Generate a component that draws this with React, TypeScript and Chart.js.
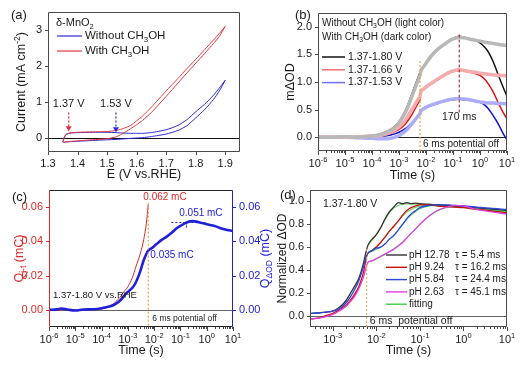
import React, { useEffect, useRef } from 'react';
import { Chart, registerables } from 'chart.js';

Chart.register(...registerables);

const FONT = '"Liberation Sans", Arial, Helvetica, sans-serif';
const FRAME = '#4a4a4a';
const TXT = '#1a1a1a';

/* ---------- (a) cyclic voltammetry ---------- */
const E_GRID = [1.35, 1.355, 1.36, 1.37, 1.38, 1.4, 1.45, 1.5, 1.53, 1.55, 1.58, 1.6, 1.62, 1.65, 1.7, 1.74, 1.77, 1.8, 1.83, 1.86, 1.88, 1.9];
const I_BLUE_FWD = [-0.12, 0.0, 0.08, 0.12, 0.13, 0.14, 0.15, 0.15, 0.14, 0.13, 0.12, 0.12, 0.12, 0.14, 0.22, 0.34, 0.5, 0.72, 0.93, 1.18, 1.38, 1.6];
const I_BLUE_REV = [-0.13, -0.13, -0.12, -0.115, -0.11, -0.1, -0.08, -0.06, -0.05, -0.04, -0.02, -0.01, 0.0, 0.03, 0.1, 0.2, 0.33, 0.55, 0.78, 1.06, 1.3, 1.6];
const I_RED_FWD = [-0.12, 0.0, 0.08, 0.12, 0.14, 0.15, 0.16, 0.17, 0.2, 0.24, 0.34, 0.47, 0.6, 0.85, 1.3, 1.65, 1.92, 2.18, 2.45, 2.72, 2.9, 3.1];
const I_RED_REV = [-0.13, -0.13, -0.12, -0.11, -0.1, -0.09, -0.06, -0.03, 0.02, 0.1, 0.25, 0.36, 0.48, 0.7, 1.15, 1.52, 1.8, 2.07, 2.34, 2.62, 2.82, 3.1];
const A_X_TICKS = [1.3, 1.4, 1.5, 1.6, 1.7, 1.8, 1.9];
const A_Y_TICKS = [0, 1, 2, 3];

/* ---------- (b) transient absorption ---------- */
const T_B = [1e-6, 3e-6, 1e-5, 3e-5, 1e-4, 2e-4, 3e-4, 5e-4, 7e-4, 1e-3, 1.5e-3, 2e-3, 3e-3, 4e-3, 5e-3, 6e-3, 6.5e-3, 8e-3, 1e-2, 1.5e-2, 2e-2, 3e-2, 5e-2, 7e-2, 0.1, 0.17, 0.25, 0.4, 0.6, 1, 1.5, 2, 3, 5, 7, 10];
const B_BLACK = [0.0, 0.01, -0.01, 0.01, 0.03, 0.06, 0.09, 0.14, 0.2, 0.28, 0.42, 0.55, 0.78, 0.95, 1.07, 1.17, 1.22, 1.28, 1.35, 1.47, 1.54, 1.62, 1.7, 1.75, 1.79, 1.83, 1.81, 1.79, 1.76, 1.71, 1.63, 1.55, 1.38, 1.1, 0.92, 0.74];
const B_GRAY = [0.0, 0.0, 0.01, 0.0, 0.02, 0.05, 0.08, 0.12, 0.18, 0.26, 0.4, 0.52, 0.74, 0.9, 1.02, 1.12, 1.2, 1.27, 1.34, 1.46, 1.53, 1.61, 1.69, 1.74, 1.78, 1.81, 1.8, 1.78, 1.76, 1.74, 1.72, 1.71, 1.7, 1.68, 1.67, 1.66];
const B_RED = [0.0, 0.0, 0.01, 0.0, 0.01, 0.02, 0.04, 0.07, 0.1, 0.14, 0.21, 0.28, 0.41, 0.52, 0.61, 0.68, 0.82, 0.86, 0.9, 0.96, 1.0, 1.05, 1.12, 1.16, 1.19, 1.21, 1.2, 1.18, 1.16, 1.12, 1.05, 0.97, 0.83, 0.6, 0.46, 0.33];
const B_PINK = [0.01, 0.0, 0.0, 0.01, 0.02, 0.03, 0.05, 0.09, 0.13, 0.18, 0.27, 0.36, 0.5, 0.6, 0.68, 0.74, 0.83, 0.87, 0.91, 0.97, 1.01, 1.07, 1.13, 1.17, 1.2, 1.22, 1.21, 1.19, 1.18, 1.16, 1.15, 1.14, 1.13, 1.12, 1.12, 1.11];
const B_BLUE = [0.0, 0.0, -0.01, 0.0, 0.0, 0.01, 0.02, 0.04, 0.06, 0.09, 0.14, 0.18, 0.26, 0.33, 0.38, 0.43, 0.47, 0.5, 0.53, 0.57, 0.59, 0.62, 0.65, 0.67, 0.68, 0.69, 0.68, 0.67, 0.66, 0.63, 0.58, 0.52, 0.4, 0.22, 0.08, -0.05];
const B_LBLUE = [0.0, 0.0, 0.0, -0.01, -0.02, -0.03, -0.03, -0.02, 0.0, 0.03, 0.09, 0.14, 0.24, 0.32, 0.38, 0.43, 0.48, 0.51, 0.54, 0.58, 0.6, 0.63, 0.66, 0.68, 0.69, 0.7, 0.69, 0.68, 0.66, 0.64, 0.63, 0.62, 0.62, 0.61, 0.61, 0.6];
const B_Y_TICKS = [0, 0.5, 1.0, 1.5, 2.0];
const EXP_BC = [-6, -5, -4, -3, -2, -1, 0, 1];

/* ---------- (c) charge ---------- */
const T_C = [1e-6, 2e-6, 3e-6, 5e-6, 1e-5, 2e-5, 5e-5, 1e-4, 2e-4, 3e-4, 5e-4, 7e-4, 1e-3, 1.5e-3, 2e-3, 3e-3, 4e-3, 5e-3, 6e-3, 8e-3, 1e-2, 1.5e-2, 2e-2, 3e-2, 5e-2, 7e-2, 0.1, 0.17, 0.3, 0.5, 1, 2, 3, 5, 10];
const C_QOD = [0, 0.0003, 0.0008, 0.0002, -0.0004, 0.0002, 0.0004, 0.001, 0.002, 0.003, 0.0053, 0.008, 0.0105, 0.013, 0.016, 0.0228, 0.029, 0.0325, 0.0346, 0.036, 0.0372, 0.0395, 0.041, 0.0428, 0.0455, 0.0475, 0.049, 0.051, 0.0518, 0.0512, 0.05, 0.049, 0.048, 0.047, 0.046];
const T_CJ = [1e-6, 1e-5, 5e-5, 1e-4, 2e-4, 3e-4, 5e-4, 7e-4, 1e-3, 1.5e-3, 2e-3, 3e-3, 4e-3, 5e-3, 6e-3];
const C_QJ = [0, 0, 0.0001, 0.0005, 0.002, 0.0038, 0.0073, 0.0105, 0.0135, 0.019, 0.025, 0.033, 0.041, 0.05, 0.062];
const C_Y_TICKS = [0, 0.02, 0.04, 0.06];

/* ---------- (d) normalized ---------- */
const T_D = [3.2e-4, 5e-4, 7e-4, 1e-3, 1.4e-3, 2e-3, 2.5e-3, 3.2e-3, 4e-3, 5e-3, 6e-3, 6.5e-3, 8e-3, 1e-2, 1.26e-2, 1.6e-2, 2e-2, 2.5e-2, 3.2e-2, 4e-2, 5e-2, 6.3e-2, 8e-2, 0.1, 0.16, 0.25, 0.4, 0.63, 1, 2, 4, 10];
const D_PH12 = [0.02, 0.025, 0.03, 0.04, 0.07, 0.13, 0.19, 0.26, 0.33, 0.45, 0.58, 0.62, 0.67, 0.71, 0.77, 0.85, 0.91, 0.95, 0.99, 0.98, 0.99, 0.98, 0.985, 0.98, 0.975, 0.97, 0.965, 0.96, 0.955, 0.945, 0.935, 0.92];
const D_PH9 = [-0.03, -0.02, 0.0, 0.02, 0.05, 0.09, 0.13, 0.19, 0.26, 0.37, 0.52, 0.55, 0.57, 0.6, 0.64, 0.69, 0.74, 0.78, 0.83, 0.88, 0.92, 0.945, 0.96, 0.97, 0.97, 0.96, 0.955, 0.95, 0.945, 0.93, 0.92, 0.9];
const D_PH5 = [0.02, 0.025, 0.03, 0.04, 0.06, 0.11, 0.16, 0.23, 0.31, 0.42, 0.53, 0.55, 0.57, 0.59, 0.6, 0.63, 0.67, 0.7, 0.75, 0.8, 0.85, 0.89, 0.92, 0.945, 0.965, 0.97, 0.97, 0.965, 0.96, 0.95, 0.94, 0.93];
const D_PH2 = [-0.03, -0.02, -0.01, 0.01, 0.04, 0.08, 0.12, 0.17, 0.24, 0.33, 0.44, 0.47, 0.48, 0.5, 0.52, 0.54, 0.56, 0.58, 0.61, 0.64, 0.68, 0.72, 0.76, 0.8, 0.87, 0.92, 0.95, 0.965, 0.96, 0.93, 0.91, 0.89];
const T_DFIT = [6.5e-3, 8e-3, 1e-2, 1.26e-2, 1.6e-2, 2e-2, 2.5e-2, 3.2e-2, 4e-2, 5e-2, 6.3e-2, 8e-2, 0.1, 0.16, 0.25, 0.4, 0.63, 1, 2, 4, 10];
const FIT12 = [0.62, 0.66, 0.71, 0.77, 0.84, 0.9, 0.94, 0.965, 0.975, 0.978, 0.978, 0.976, 0.974, 0.97, 0.965, 0.96, 0.955, 0.95, 0.94, 0.93, 0.91];
const FIT9 = [0.55, 0.575, 0.605, 0.645, 0.69, 0.74, 0.785, 0.83, 0.87, 0.905, 0.93, 0.948, 0.958, 0.965, 0.962, 0.957, 0.952, 0.946, 0.935, 0.923, 0.905];
const FIT5 = [0.55, 0.562, 0.58, 0.6, 0.63, 0.665, 0.705, 0.75, 0.795, 0.84, 0.88, 0.91, 0.935, 0.958, 0.966, 0.966, 0.962, 0.957, 0.947, 0.937, 0.92];
const FIT2 = [0.47, 0.48, 0.495, 0.515, 0.535, 0.56, 0.585, 0.615, 0.645, 0.68, 0.72, 0.76, 0.8, 0.868, 0.915, 0.945, 0.955, 0.952, 0.935, 0.915, 0.89];
const D_Y_TICKS = [0, 0.2, 0.4, 0.6, 0.8, 1.0];
const EXP_D = [-3, -2, -1, 0, 1];
const D_LEGEND = ['pH 12.78', 'pH 9.24', 'pH 5.84', 'pH 2.63', 'fitting'];
const D_TAU = ['τ = 5.4 ms', 'τ = 16.2 ms', 'τ = 24.4 ms', 'τ = 45.1 ms'];

/* ---------- layout boxes (canvas rect + plot rect, page px) ---------- */
type Box = { cx: number; cy: number; cw: number; ch: number; L: number; T: number; R: number; B: number };
const BOX_A: Box = { cx: 0, cy: 0, cw: 260, ch: 184, L: 48, T: 12, R: 240, B: 152 };
const BOX_B: Box = { cx: 260, cy: 0, cw: 260, ch: 184, L: 318, T: 13, R: 507, B: 151 };
const BOX_C: Box = { cx: 0, cy: 174, cw: 276, ch: 200, L: 49, T: 190, R: 233, B: 327 };
const BOX_D: Box = { cx: 276, cy: 174, cw: 244, ch: 200, L: 310, T: 190, R: 507, B: 327 };

/* ---------- helpers ---------- */
const pts = (xs: number[], ys: number[]) => xs.map((x, i) => ({ x, y: ys[i] }));

function rich(s: string) {
  const out: { t: string; k: number }[] = [];
  const re = /([_^])\{([^}]*)\}/g;
  let last = 0;
  let m: RegExpExecArray | null;
  while ((m = re.exec(s))) {
    if (m.index > last) out.push({ t: s.slice(last, m.index), k: 0 });
    out.push({ t: m[2], k: m[1] === '_' ? 1 : 2 });
    last = re.lastIndex;
  }
  if (last < s.length) out.push({ t: s.slice(last), k: 0 });
  return out;
}

function drawText(ctx: any, s: string, x: number, y: number, size: number, color: string, align = 'left', rot = 0) {
  const parts = rich(s);
  let w = 0;
  for (const p of parts) {
    ctx.font = `${p.k ? size * 0.68 : size}px ${FONT}`;
    w += ctx.measureText(p.t).width;
  }
  ctx.save();
  ctx.translate(x, y);
  if (rot) ctx.rotate(rot);
  let px = align === 'left' ? 0 : align === 'center' ? -w / 2 : -w;
  ctx.fillStyle = color;
  ctx.textBaseline = 'middle';
  ctx.textAlign = 'left';
  for (const p of parts) {
    const sz = p.k ? size * 0.68 : size;
    ctx.font = `${sz}px ${FONT}`;
    const dy = p.k === 1 ? size * 0.32 : p.k === 2 ? -size * 0.38 : 0;
    ctx.fillText(p.t, px, dy);
    px += ctx.measureText(p.t).width;
  }
  ctx.restore();
}

function seg(ctx: any, x1: number, y1: number, x2: number, y2: number, color: string, w = 1, dash: number[] = []) {
  ctx.save();
  ctx.strokeStyle = color;
  ctx.lineWidth = w;
  ctx.setLineDash(dash);
  ctx.beginPath();
  ctx.moveTo(x1, y1);
  ctx.lineTo(x2, y2);
  ctx.stroke();
  ctx.restore();
}

function arrowDown(ctx: any, x: number, y1: number, y2: number, color: string) {
  seg(ctx, x, y1, x, y2 - 4, color, 1.2, [2, 2]);
  ctx.save();
  ctx.fillStyle = color;
  ctx.beginPath();
  ctx.moveTo(x - 3, y2 - 5);
  ctx.lineTo(x + 3, y2 - 5);
  ctx.lineTo(x, y2);
  ctx.closePath();
  ctx.fill();
  ctx.restore();
}

function frame(ctx: any, ca: any, cl = FRAME, cr = FRAME, ct = FRAME, cb = FRAME) {
  const l = Math.round(ca.left) + 0.5, r = Math.round(ca.right) - 0.5;
  const t = Math.round(ca.top) + 0.5, b = Math.round(ca.bottom) - 0.5;
  seg(ctx, l, t, r, t, ct);
  seg(ctx, l, b, r, b, cb);
  seg(ctx, l, t, l, b, cl);
  seg(ctx, r, t, r, b, cr);
}

function xTicks(ctx: any, sc: any, ca: any, vals: number[], len: number, color = FRAME) {
  for (const v of vals) {
    const px = Math.round(sc.getPixelForValue(v)) + 0.5;
    seg(ctx, px, ca.bottom, px, ca.bottom + len, color);
  }
}

function yTicks(ctx: any, sc: any, ca: any, vals: number[], len: number, color = FRAME, side = 'left') {
  for (const v of vals) {
    const py = Math.round(sc.getPixelForValue(v)) + 0.5;
    if (side === 'left') seg(ctx, ca.left - len, py, ca.left, py, color);
    else seg(ctx, ca.right, py, ca.right + len, py, color);
  }
}

function logMinor(min: number, max: number) {
  const out: number[] = [];
  for (let e = Math.floor(Math.log10(min)); e <= Math.ceil(Math.log10(max)); e++) {
    for (let k = 1; k < 10; k++) {
      const v = k * Math.pow(10, e);
      if (v >= min * 0.9999 && v <= max * 1.0001) out.push(v);
    }
  }
  return out;
}

function logAxis(ctx: any, sc: any, ca: any, exps: number[], min: number, max: number) {
  xTicks(ctx, sc, ca, logMinor(min, max), 2);
  xTicks(ctx, sc, ca, exps.map((e) => Math.pow(10, e)), 4);
  for (const e of exps) {
    const px = sc.getPixelForValue(Math.pow(10, e));
    drawText(ctx, `10^{${e}}`, px, ca.bottom + 13, 11, TXT, 'center');
  }
}

function ds(data: any[], color: string, width: number, extra: any = {}) {
  return { data, borderColor: color, backgroundColor: color, borderWidth: width, pointRadius: 0, fill: false, tension: 0, ...extra };
}

function xLin(box: Box, min: number, max: number, ticks: number[], fmt: (v: number) => string) {
  return {
    type: 'linear', position: 'bottom', min, max,
    afterFit: (s: any) => { s.height = box.cy + box.ch - box.B; },
    afterBuildTicks: (s: any) => { s.ticks = ticks.map((v) => ({ value: v })); },
    ticks: { autoSkip: false, maxRotation: 0, padding: 2, color: TXT, font: { family: FONT, size: 11 }, callback: (v: any) => fmt(Number(v)) },
    grid: { display: false, drawTicks: true, tickLength: 3 },
    border: { display: false },
  };
}

function xLog(box: Box, min: number, max: number) {
  return {
    type: 'logarithmic', position: 'bottom', min, max,
    afterFit: (s: any) => { s.height = box.cy + box.ch - box.B; },
    ticks: { display: false },
    grid: { display: false },
    border: { display: false },
  };
}

function yLin(box: Box, min: number, max: number, ticks: number[], fmt: (v: number) => string, color: string, side = 'left') {
  return {
    type: 'linear', position: side, min, max,
    afterFit: (s: any) => { s.width = side === 'left' ? box.L - box.cx : box.cx + box.cw - box.R; },
    afterBuildTicks: (s: any) => { s.ticks = ticks.map((v) => ({ value: v })); },
    ticks: { autoSkip: false, padding: 3, color, font: { family: FONT, size: 11 }, callback: (v: any) => fmt(Number(v)) },
    grid: { display: false, drawTicks: true, tickLength: 3 },
    border: { display: false },
  };
}

function opts(box: Box, scales: any, rightAxis = false) {
  return {
    animation: false, responsive: false, maintainAspectRatio: false, devicePixelRatio: 1, events: [],
    layout: { padding: { top: box.T - box.cy, right: rightAxis ? 0 : box.cx + box.cw - box.R, left: 0, bottom: 0 } },
    plugins: { legend: { display: false }, tooltip: { enabled: false }, title: { display: false } },
    scales,
  };
}

function zeroLine(color: string, axis = 'y') {
  return (c: any) => {
    const { ctx, chartArea: ca } = c;
    const y0 = Math.round(c.scales[axis].getPixelForValue(0)) + 0.5;
    seg(ctx, ca.left, y0, ca.right, y0, color, 1);
  };
}

/* ---------- (a) ---------- */
const BLUE_A = '#2a2ad2';
const RED_A = '#e0393e';
function makeA(box: Box) {
  const blue = [...pts(E_GRID, I_BLUE_FWD), ...pts([...E_GRID].reverse(), [...I_BLUE_REV].reverse())];
  const red = [...pts(E_GRID, I_RED_FWD), ...pts([...E_GRID].reverse(), [...I_RED_REV].reverse())];
  const plugin = {
    id: 'pa',
    beforeDatasetsDraw: zeroLine('#111'),
    afterDraw(c: any) {
      const { ctx, chartArea: ca, scales } = c;
      const x = scales.x, y = scales.y;
      frame(ctx, ca);
      xTicks(ctx, x, ca, A_X_TICKS, 3);
      yTicks(ctx, y, ca, A_Y_TICKS, 3);
      drawText(ctx, '(a)', 11, 15, 13, TXT);
      drawText(ctx, 'Current (mA cm^{-2})', 22, (ca.top + ca.bottom) / 2, 12.5, TXT, 'center', -Math.PI / 2);
      drawText(ctx, 'E (V vs.RHE)', (ca.left + ca.right) / 2, ca.bottom + 23, 12.5, TXT, 'center');
      drawText(ctx, 'δ-MnO_{2}', ca.left + 8, ca.top + 11, 11, TXT);
      seg(ctx, ca.left + 9, ca.top + 24, ca.left + 34, ca.top + 24, BLUE_A, 1.2);
      drawText(ctx, 'Without CH_{3}OH', ca.left + 37, ca.top + 24, 11.5, TXT);
      seg(ctx, ca.left + 9, ca.top + 39, ca.left + 34, ca.top + 39, RED_A, 1.2);
      drawText(ctx, 'With CH_{3}OH', ca.left + 37, ca.top + 39, 11.5, TXT);
      const xa = x.getPixelForValue(1.37), xb = x.getPixelForValue(1.53);
      drawText(ctx, '1.37 V', xa, y.getPixelForValue(0.95), 11, TXT, 'center');
      drawText(ctx, '1.53 V', xb, y.getPixelForValue(0.95), 11, TXT, 'center');
      arrowDown(ctx, xa, y.getPixelForValue(0.7), y.getPixelForValue(0.18), '#e03030');
      arrowDown(ctx, xb, y.getPixelForValue(0.7), y.getPixelForValue(0.15), '#2a2ad2');
    },
  };
  return {
    type: 'line',
    data: { datasets: [ds(red, RED_A, 1, { tension: 0.2 }), ds(blue, BLUE_A, 1, { tension: 0.2 })] },
    options: opts(box, {
      x: xLin(box, 1.3, 1.95, A_X_TICKS, (v) => v.toFixed(1)),
      y: yLin(box, -0.4, 3.5, A_Y_TICKS, (v) => String(v), TXT),
    }),
    plugins: [plugin],
  };
}

/* ---------- (b) ---------- */
function makeB(box: Box) {
  const plugin = {
    id: 'pb',
    beforeDatasetsDraw: zeroLine('#222'),
    afterDraw(c: any) {
      const { ctx, chartArea: ca, scales } = c;
      const x = scales.x, y = scales.y;
      frame(ctx, ca);
      yTicks(ctx, y, ca, B_Y_TICKS, 3);
      logAxis(ctx, x, ca, EXP_BC, 1e-6, 10);
      drawText(ctx, '(b)', 35, 15, 13, TXT);
      drawText(ctx, 'mΔOD', 31, (ca.top + ca.bottom) / 2, 12.5, TXT, 'center', -Math.PI / 2);
      drawText(ctx, 'Time (s)', (ca.left + ca.right) / 2, ca.bottom + 25, 12.5, TXT, 'center');
      drawText(ctx, 'Without CH_{3}OH (light color)', ca.left + 4, ca.top + 10, 10, TXT);
      drawText(ctx, 'With CH_{3}OH (dark color)', ca.left + 4, ca.top + 24, 10, TXT);
      const rows = [['#111', '1.37-1.80 V'], ['#f07070', '1.37-1.66 V'], ['#7070f0', '1.37-1.53 V']];
      rows.forEach((r, i) => {
        const yy = ca.top + 44 + i * 12.8;
        seg(ctx, ca.left + 4, yy, ca.left + 27, yy, r[0], 1.5);
        drawText(ctx, r[1], ca.left + 30, yy, 10.5, TXT);
      });
      const x170 = x.getPixelForValue(0.17);
      seg(ctx, x170, y.getPixelForValue(1.86), x170, y.getPixelForValue(0.45), '#8b1a1a', 1, [3, 2]);
      drawText(ctx, '170 ms', x170, y.getPixelForValue(0.36), 10.5, TXT, 'center');
      const x6 = x.getPixelForValue(0.006);
      seg(ctx, x6, ca.bottom, x6, y.getPixelForValue(1.42), '#f0a040', 1.2, [2, 2]);
      drawText(ctx, '6 ms potential off', x6 + 3, y.getPixelForValue(-0.135), 10, TXT);
    },
  };
  const mono = { cubicInterpolationMode: 'monotone' };
  return {
    type: 'line',
    data: {
      datasets: [
        ds(pts(T_B, B_GRAY), '#b8b8b8', 3.5, mono),
        ds(pts(T_B, B_PINK), '#f5acac', 3.5, mono),
        ds(pts(T_B, B_LBLUE), '#acacf8', 3.5, mono),
        ds(pts(T_B, B_BLACK), '#111111', 1.5, mono),
        ds(pts(T_B, B_RED), '#e01010', 1.5, mono),
        ds(pts(T_B, B_BLUE), '#1010c8', 1.5, mono),
      ],
    },
    options: opts(box, {
      x: xLog(box, 1e-6, 10),
      y: yLin(box, -0.25, 2.25, B_Y_TICKS, (v) => v.toFixed(1), TXT),
    }),
    plugins: [plugin],
  };
}

/* ---------- (c) ---------- */
const RED_C = '#e02828';
const BLUE_C = '#2020d8';
function makeC(box: Box) {
  const plugin = {
    id: 'pc',
    beforeDatasetsDraw: zeroLine('#666'),
    afterDraw(c: any) {
      const { ctx, chartArea: ca, scales } = c;
      const x = scales.x, y = scales.y, y2 = scales.y2;
      frame(ctx, ca, RED_C, BLUE_C, '#222', '#222');
      yTicks(ctx, y, ca, C_Y_TICKS, 3, RED_C, 'left');
      yTicks(ctx, y2, ca, C_Y_TICKS, 3, BLUE_C, 'right');
      logAxis(ctx, x, ca, EXP_BC, 1e-6, 10);
      drawText(ctx, '(c)', 12, 23, 13, TXT);
      drawText(ctx, 'Q_{j-t} (mC)', 20, (ca.top + ca.bottom) / 2, 12.5, RED_C, 'center', -Math.PI / 2);
      drawText(ctx, 'Q_{ΔOD} (mC)', 266, (ca.top + ca.bottom) / 2, 12.5, BLUE_C, 'center', -Math.PI / 2);
      drawText(ctx, 'Time (s)', (ca.left + ca.right) / 2, ca.bottom + 24, 12.5, TXT, 'center');
      const x6 = x.getPixelForValue(0.006);
      seg(ctx, x6, y.getPixelForValue(0.062), x6, ca.bottom, '#f0a040', 1.2, [2, 2]);
      const yq = y.getPixelForValue(0.051);
      seg(ctx, x.getPixelForValue(0.045), yq, x.getPixelForValue(0.95), yq, BLUE_C, 1, [2, 2]);
      seg(ctx, x.getPixelForValue(0.17), yq, x.getPixelForValue(0.17), y.getPixelForValue(0.0475), BLUE_C, 1, [2, 1]);
      drawText(ctx, '0.062 mC', x6 - 5, y.getPixelForValue(0.0655), 10, RED_C);
      drawText(ctx, '0.051 mC', x.getPixelForValue(0.09), y.getPixelForValue(0.0566), 10, BLUE_C);
      drawText(ctx, '0.035 mC', x6 + 2, y.getPixelForValue(0.032), 10, BLUE_C);
      drawText(ctx, '1.37-1.80 V vs.RHE', ca.left + 4, y.getPixelForValue(0.0086), 9.5, TXT);
      drawText(ctx, '6 ms potential off', x6 + 4, y.getPixelForValue(-0.005), 8.5, TXT);
    },
  };
  const mono = { cubicInterpolationMode: 'monotone' };
  return {
    type: 'line',
    data: {
      datasets: [
        ds(pts(T_C, C_QOD), BLUE_C, 2.6, { ...mono, yAxisID: 'y2' }),
        ds(pts(T_CJ, C_QJ), RED_C, 1, { ...mono, yAxisID: 'y' }),
      ],
    },
    options: opts(box, {
      x: xLog(box, 1e-6, 10),
      y: yLin(box, -0.01, 0.07, C_Y_TICKS, (v) => v.toFixed(2), RED_C, 'left'),
      y2: yLin(box, -0.01, 0.07, C_Y_TICKS, (v) => v.toFixed(2), BLUE_C, 'right'),
    }, true),
    plugins: [plugin],
  };
}

/* ---------- (d) ---------- */
const D_COLORS = ['#333333', '#c81010', '#2848d8', '#e040e0', '#40d040'];
function makeD(box: Box) {
  const plugin = {
    id: 'pd',
    beforeDatasetsDraw: zeroLine('#666'),
    afterDraw(c: any) {
      const { ctx, chartArea: ca, scales } = c;
      const x = scales.x, y = scales.y;
      frame(ctx, ca);
      yTicks(ctx, y, ca, D_Y_TICKS, 3);
      logAxis(ctx, x, ca, EXP_D, 3.2e-4, 10);
      drawText(ctx, '(d)', 4, 21, 13, TXT);
      drawText(ctx, 'Normalized ΔOD', 7, (ca.top + ca.bottom) / 2, 12, TXT, 'center', -Math.PI / 2);
      drawText(ctx, 'Time (s)', (ca.left + ca.right) / 2, ca.bottom + 24, 12.5, TXT, 'center');
      drawText(ctx, '1.37-1.80 V', ca.left + 13, ca.top + 14, 10.5, TXT);
      const x6 = x.getPixelForValue(0.006);
      seg(ctx, x6, ca.bottom, x6, y.getPixelForValue(0.6), '#f0a050', 1, [2, 2]);
      drawText(ctx, '6 ms  potential off', x6 + 3, y.getPixelForValue(-0.05), 10.5, TXT);
      D_LEGEND.forEach((lab, i) => {
        const yy = ca.top + 65 + i * 12.3;
        seg(ctx, ca.left + 76, yy, ca.left + 97, yy, D_COLORS[i], 1.4);
        drawText(ctx, lab, ca.left + 99, yy, 10, TXT);
        if (D_TAU[i]) drawText(ctx, D_TAU[i], ca.left + 145, yy, 10, TXT);
      });
    },
  };
  const mono = { cubicInterpolationMode: 'monotone' };
  return {
    type: 'line',
    data: {
      datasets: [
        ds(pts(T_D, D_PH2), D_COLORS[3], 1.3, mono),
        ds(pts(T_D, D_PH5), D_COLORS[2], 1.3, mono),
        ds(pts(T_D, D_PH9), D_COLORS[1], 1.3, mono),
        ds(pts(T_D, D_PH12), D_COLORS[0], 1.3, mono),
        ds(pts(T_DFIT, FIT2), D_COLORS[4], 1, mono),
        ds(pts(T_DFIT, FIT5), D_COLORS[4], 1, mono),
        ds(pts(T_DFIT, FIT9), D_COLORS[4], 1, mono),
        ds(pts(T_DFIT, FIT12), D_COLORS[4], 1, mono),
      ],
    },
    options: opts(box, {
      x: xLog(box, 3.2e-4, 10),
      y: yLin(box, -0.1, 1.1, D_Y_TICKS, (v) => v.toFixed(1), TXT),
    }),
    plugins: [plugin],
  };
}

function PanelCanvas({ box, make }: { box: Box; make: (b: Box) => any }) {
  const ref = useRef<HTMLCanvasElement | null>(null);
  useEffect(() => {
    const chart = new Chart(ref.current as HTMLCanvasElement, make(box));
    return () => chart.destroy();
  }, []);
  return (
    <canvas
      ref={ref}
      width={box.cw}
      height={box.ch}
      style={{ position: 'absolute', left: box.cx, top: box.cy, width: box.cw, height: box.ch }}
    />
  );
}

export default function App() {
  return (
    <div style={{ position: 'absolute', left: 0, top: 0, width: 520, height: 374, background: '#fff', overflow: 'hidden' }}>
      <PanelCanvas box={BOX_A} make={makeA} />
      <PanelCanvas box={BOX_B} make={makeB} />
      <PanelCanvas box={BOX_C} make={makeC} />
      <PanelCanvas box={BOX_D} make={makeD} />
    </div>
  );
}
